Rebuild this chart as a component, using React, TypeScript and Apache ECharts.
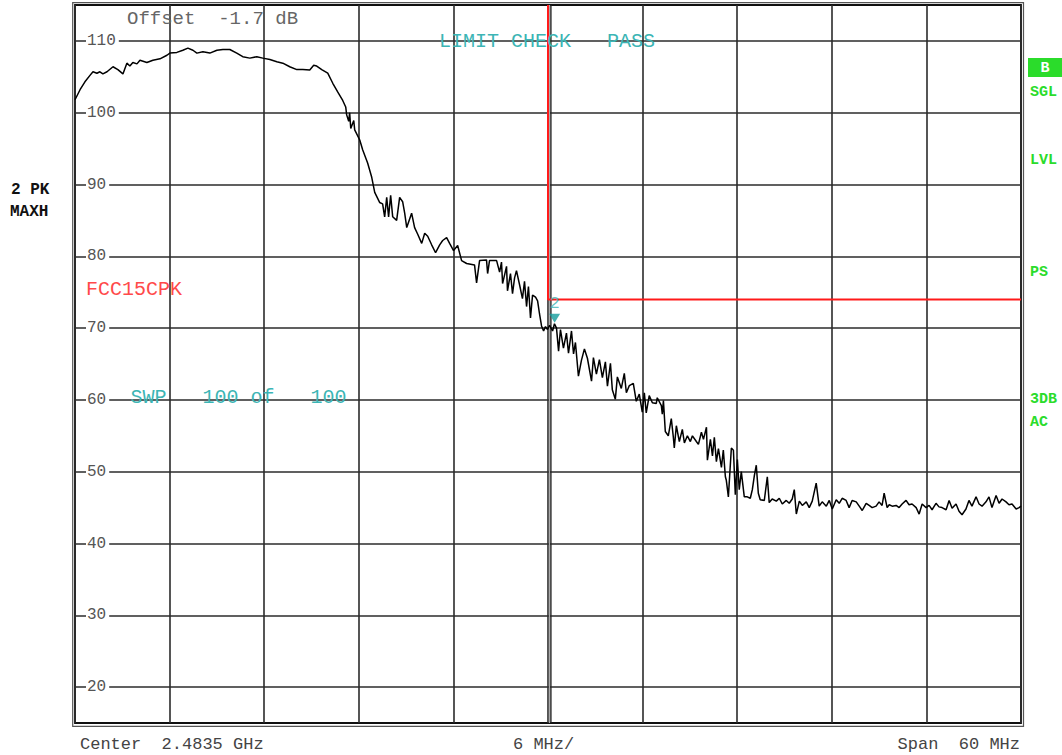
import React, { useEffect, useRef } from "react";
import * as echarts from "echarts";

const MONO = '"Liberation Mono", "DejaVu Sans Mono", monospace';

// Frequency offset from start of span (MHz)
const freqMHz = [
  0, 0.32, 0.63, 0.95, 1.14, 1.39, 1.58, 1.77, 2.03, 2.41, 2.72, 3.04, 3.29, 3.48, 3.67, 3.93, 4.12, 4.56, 4.94, 5.39,
  5.83, 6.02, 6.46, 6.84, 7.16, 7.48, 7.73, 8.11, 8.55, 9.0, 9.38, 9.82, 10.26, 10.64, 11.09, 11.53, 11.91, 12.36, 12.8, 13.18,
  13.62, 14.07, 14.45, 14.89, 15.14, 15.33, 15.65, 16.03, 16.35, 16.66, 16.98, 17.17, 17.23, 17.36, 17.42, 17.49, 17.68, 17.74, 18.06, 18.25,
  18.56, 18.82, 19.01, 19.32, 19.51, 19.64, 19.77, 19.89, 20.02, 20.15, 20.4, 20.59, 20.78, 20.91, 21.04, 21.35, 21.54, 21.73, 21.99, 22.18,
  22.37, 22.62, 22.87, 23.13, 23.32, 23.57, 23.76, 24.01, 24.27, 24.52, 24.84, 25.34, 25.47, 25.66, 26.1, 26.17, 26.29, 26.74, 26.93, 27.05,
  27.12, 27.37, 27.43, 27.62, 27.75, 27.88, 28.0, 28.2, 28.38, 28.51, 28.64, 28.76, 28.89, 29.02, 29.21, 29.34, 29.46, 29.59, 29.72, 29.84,
  29.97, 30.1, 30.29, 30.41, 30.54, 30.67, 30.79, 30.98, 31.17, 31.3, 31.49, 31.62, 31.74, 31.93, 32.12, 32.31, 32.5, 32.76, 32.88, 33.07,
  33.26, 33.45, 33.64, 33.77, 33.96, 34.08, 34.27, 34.4, 34.65, 34.84, 34.97, 35.16, 35.41, 35.6, 35.79, 35.98, 36.11, 36.23, 36.42, 36.62,
  36.87, 36.93, 37.19, 37.25, 37.32, 37.44, 37.63, 37.82, 37.95, 38.01, 38.14, 38.33, 38.52, 38.65, 38.84, 39.03, 39.16, 39.41, 39.54, 39.73,
  39.86, 40.05, 40.11, 40.3, 40.43, 40.55, 40.68, 40.81, 41.0, 41.12, 41.25, 41.31, 41.44, 41.63, 41.76, 41.88, 42.01, 42.13, 42.26, 42.45,
  42.64, 42.83, 42.96, 43.09, 43.21, 43.34, 43.46, 43.72, 43.91, 44.03, 44.22, 44.48, 44.67, 44.86, 45.11, 45.3, 45.49, 45.62, 45.75, 45.94,
  46.13, 46.38, 46.57, 46.76, 47.01, 47.2, 47.39, 47.65, 47.84, 48.03, 48.28, 48.47, 48.66, 48.91, 49.1, 49.29, 49.55, 49.74, 49.93, 50.18,
  50.37, 50.56, 50.81, 51.0, 51.19, 51.32, 51.51, 51.64, 51.83, 52.08, 52.27, 52.46, 52.71, 52.9, 53.09, 53.35, 53.54, 53.73, 53.98, 54.17,
  54.36, 54.61, 54.8, 54.99, 55.25, 55.44, 55.63, 55.88, 56.07, 56.26, 56.51, 56.7, 56.89, 57.15, 57.34, 57.53, 57.78, 57.97, 58.16, 58.42,
  58.61, 58.8, 59.05, 59.24, 59.43, 59.69, 59.88, 60,
];

// Level (dBµV) of the max-hold trace at each frequency above
const levelDb = [
  101.8, 103.2, 104.3, 105.2, 105.7, 105.5, 105.7, 105.4, 105.7, 106.4, 106.0, 105.4, 106.9, 106.5, 107.0, 106.8, 107.3, 107.0, 107.3, 107.5,
  108.0, 108.3, 108.4, 108.7, 109.0, 108.7, 108.3, 108.5, 108.3, 108.7, 108.8, 108.8, 108.3, 107.8, 107.6, 107.8, 107.6, 107.4, 107.1, 106.9,
  106.4, 106.0, 106.0, 105.95, 106.6, 106.5, 106.0, 105.5, 104.1, 102.9, 101.7, 100.8, 99.7, 98.8, 100.0, 97.8, 98.9, 97.6, 96.2, 94.8,
  93.0, 91.0, 88.9, 87.5, 87.3, 85.5, 88.2, 85.5, 88.5, 85.5, 85.0, 88.2, 87.6, 86.0, 84.0, 86.0, 84.0, 83.1, 81.8, 83.2,
  82.8, 81.6, 80.5, 81.6, 82.2, 82.6, 81.8, 80.8, 81.5, 79.4, 79.0, 78.8, 76.3, 79.4, 79.5, 77.6, 79.4, 79.4, 77.8, 79.2,
  76.2, 78.6, 75.2, 77.6, 74.8, 77.0, 78.0, 76.0, 74.1, 76.5, 73.0, 75.8, 71.4, 74.6, 74.3, 73.8, 72.0, 70.3, 69.6, 70.2,
  69.8, 70.4, 69.6, 70.6, 70.0, 66.8, 69.8, 67.2, 69.3, 66.5, 69.6, 66.4, 68.0, 63.3, 65.5, 67.1, 65.8, 62.6, 65.9, 63.6,
  65.6, 63.1, 65.3, 61.9, 65.1, 61.4, 60.1, 63.2, 61.6, 63.7, 61.0, 62.0, 62.3, 59.8, 60.8, 58.3, 61.0, 58.2, 60.6, 59.6,
  59.5, 60.3, 59.2, 58.0, 59.9, 55.6, 55.0, 57.4, 54.8, 53.3, 56.4, 54.2, 55.9, 54.0, 55.0, 54.2, 55.0, 54.2, 53.8, 55.5,
  54.5, 56.2, 51.6, 54.5, 52.2, 54.8, 51.4, 53.2, 50.6, 53.0, 49.3, 48.8, 46.5, 53.3, 53.0, 46.8, 51.7, 47.5, 50.0, 46.5,
  46.5, 46.3, 47.5, 49.5, 50.9, 47.0, 46.1, 46.0, 49.3, 45.7, 46.2, 45.9, 46.3, 45.5, 46.0, 45.6, 46.2, 47.5, 44.1, 45.9,
  45.3, 45.8, 45.0, 45.9, 48.4, 45.2, 45.8, 45.2, 46.0, 44.8, 46.1, 45.6, 46.3, 46.0, 45.0, 46.0, 45.8, 45.2, 44.6, 45.6,
  45.3, 45.0, 45.2, 45.8, 45.3, 47.0, 45.0, 45.4, 45.2, 45.3, 45.0, 45.5, 46.0, 45.4, 45.5, 45.0, 44.1, 45.5, 45.0, 45.3,
  44.7, 45.6, 45.1, 45.0, 44.7, 46.0, 44.9, 45.5, 44.5, 44.0, 44.8, 46.0, 45.2, 46.5, 45.5, 45.2, 45.8, 46.5, 45.0, 46.7,
  45.6, 46.2, 45.8, 45.4, 45.5, 44.8, 45.0, 45.2,
];

// Limit line FCC15CPK
const limitFreqMHz = [30, 30, 60];
const limitLevelDb = [115, 74, 74];

// Marker 2
const markerFreqMHz = [30.42];
const markerLevelDb = [70.75];
const markerNames = ["2"];

// Axes
const spanMHz = 60;
const divMHz = 6;
const refMin = 15;
const refMax = 115;
const labelMin = 20;
const labelMax = 110;
const labelStep = 10;

export default function App() {
  const ref = useRef<HTMLDivElement>(null);

  useEffect(() => {
    document.body.style.margin = "0";
    const chart = echarts.init(ref.current as HTMLDivElement, null, { renderer: "svg" });

    const L = 75;
    const T = 5;
    const W = 946;
    const H = 718;
    const pxPerDb = H / (refMax - refMin);

    const teal = "#3cb5b5";
    const green = "#2bdc2b";

    const text = (t: string, x: number, y: number, fill: string, size: number, extra: any = {}) => ({
      type: "text",
      x,
      y,
      z: 10,
      silent: true,
      style: {
        text: t,
        fill,
        font: `${extra.weight || "normal"} ${size}px ${MONO}`,
        textAlign: extra.align || "left",
        textVerticalAlign: "middle",
      },
    });

    const option: any = {
      animation: false,
      backgroundColor: "#ffffff",
      grid: [
        { left: L, top: T, width: W, height: H, show: true, borderColor: "#111", borderWidth: 1.8, backgroundColor: "transparent" },
        {
          left: L,
          top: T + (refMax - labelMax) * pxPerDb,
          width: W,
          height: (labelMax - labelMin) * pxPerDb,
        },
      ],
      xAxis: [
        {
          gridIndex: 0,
          type: "value",
          min: 0,
          max: spanMHz,
          interval: divMHz,
          axisLine: { show: false },
          axisTick: { show: false },
          axisLabel: { show: false },
          splitLine: { show: true, lineStyle: { color: "#2b2b2b", width: 1.6 } },
        },
        { gridIndex: 1, type: "value", min: 0, max: spanMHz, show: false },
      ],
      yAxis: [
        { gridIndex: 0, type: "value", min: refMin, max: refMax, show: false },
        {
          gridIndex: 1,
          type: "value",
          min: labelMin,
          max: labelMax,
          interval: labelStep,
          axisLine: { show: false },
          axisTick: { show: false },
          axisLabel: { show: false },
          splitLine: { show: true, lineStyle: { color: "#2b2b2b", width: 1.6 } },
        },
        {
          gridIndex: 1,
          type: "value",
          position: "left",
          min: labelMin,
          max: labelMax,
          interval: labelStep,
          z: 5,
          axisLine: { show: false },
          axisTick: { show: false },
          splitLine: { show: false },
          axisLabel: {
            inside: true,
            margin: 11,
            color: "#555",
            fontSize: 16,
            fontFamily: MONO,
            backgroundColor: "#ffffff",
            padding: [1, 3, 0, 1],
          },
        },
      ],
      series: [
        {
          type: "line",
          name: "limit",
          xAxisIndex: 0,
          yAxisIndex: 0,
          data: limitFreqMHz.map((f, i) => [f, limitLevelDb[i]]),
          showSymbol: false,
          lineStyle: { color: "#ff1a1a", width: 2 },
          z: 3,
          silent: true,
        },
        {
          type: "line",
          name: "trace",
          xAxisIndex: 0,
          yAxisIndex: 0,
          data: freqMHz.map((f, i) => [f, levelDb[i]]),
          showSymbol: false,
          lineStyle: { color: "#000", width: 1.5 },
          z: 4,
          silent: true,
        },
        {
          type: "scatter",
          name: "marker",
          xAxisIndex: 0,
          yAxisIndex: 0,
          data: markerFreqMHz.map((f, i) => [f, markerLevelDb[i]]),
          symbol: "triangle",
          symbolRotate: 180,
          symbolSize: [11, 9],
          symbolOffset: [0, -4.5],
          itemStyle: { color: "#149b9b" },
          label: {
            show: true,
            position: "top",
            distance: 2,
            formatter: (p: any) => markerNames[p.dataIndex],
            color: teal,
            fontSize: 17,
            fontFamily: MONO,
          },
          z: 6,
          silent: true,
        },
      ],
      graphic: [
        {
          type: "rect",
          silent: true,
          z: 1,
          shape: { x: 72.7, y: 2.7, width: 950.8, height: 723.6 },
          style: { fill: "none", stroke: "#555", lineWidth: 1.2 },
        },
        {
          type: "line",
          silent: true,
          z: 1,
          shape: { x1: 549.5, y1: T, x2: 549.5, y2: T + H },
          style: { stroke: "#aaa", lineWidth: 1.2 },
        },
        {
          type: "line",
          silent: true,
          z: 1,
          shape: { x1: 550.9, y1: T, x2: 550.9, y2: T + H },
          style: { stroke: "#222", lineWidth: 1.4 },
        },
        text("Offset  -1.7 dB", 127, 19, "#666", 19),
        text("LIMIT CHECK   PASS", 439, 41, teal, 20),
        text("FCC15CPK", 86, 289, "#ff4a4a", 20),
        text("SWP   100 of   100", 130.5, 397, teal, 20),
        text("2 PK", 11, 190, "#111", 16, { weight: "bold" }),
        text("MAXH", 10, 212, "#111", 16, { weight: "bold" }),
        {
          type: "rect",
          silent: true,
          z: 9,
          shape: { x: 1028, y: 58, width: 34, height: 19 },
          style: { fill: green },
        },
        text("B", 1045, 68, "#fff", 15, { weight: "bold", align: "center" }),
        text("SGL", 1030, 92, green, 15, { weight: "bold" }),
        text("LVL", 1030, 160, green, 15, { weight: "bold" }),
        text("PS", 1030, 272, green, 15, { weight: "bold" }),
        text("3DB", 1030, 399, green, 15, { weight: "bold" }),
        text("AC", 1030, 422, green, 15, { weight: "bold" }),
        text("Center  2.4835 GHz", 80, 744, "#444", 17),
        text("6 MHz/", 513, 744, "#444", 17),
        text("Span  60 MHz", 1020, 744, "#444", 17, { align: "right" }),
      ],
    };

    chart.setOption(option);
    return () => {
      chart.dispose();
    };
  }, []);

  return <div ref={ref} style={{ width: 1062, height: 755, background: "#fff" }} />;
}
